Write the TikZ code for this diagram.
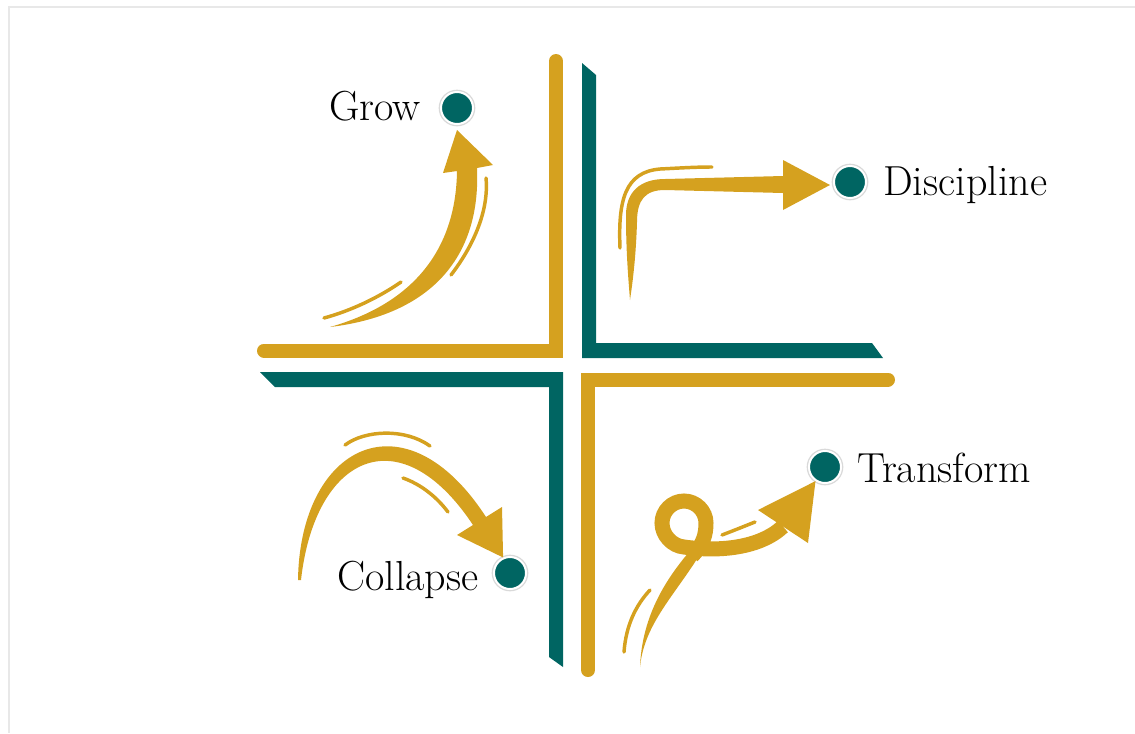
\documentclass[tikz,border=0pt]{standalone}
\usetikzlibrary{calc}
\definecolor{ochre}{RGB}{213,161,31}
\definecolor{deepteal}{RGB}{0,101,98}
\begin{document}
\begin{tikzpicture}[x=0.75pt,y=0.75pt,yscale=-1,xscale=1,
  goldbar/.style={draw=ochre, line width=10.5pt, line cap=round, line join=miter},
  tealbar/.style={fill=deepteal},
  arrowbody/.style={fill=ochre},
  swoosh/.style={draw=ochre, line width=2.6pt, line cap=round},
  dot/.style={circle, fill=deepteal, draw=white, line width=1.5pt, minimum size=24pt, inner sep=0pt, preaction={draw=black!15, line width=3.5pt}},
  lbl/.style={anchor=base west, inner sep=0pt, font=\fontsize{31.5}{36}\selectfont}]
\useasboundingbox (0,0) rectangle (1135,733);

%Frame
\draw [color=black!9, line width=2.2pt] (9,733) -- (9,7) -- (1135,7);

%Gold bar, top left
\draw [goldbar] (264,350.5) -- (556,350.5) -- (556,61);
%Gold bar, bottom right
\draw [goldbar] (888,379.5) -- (588,379.5) -- (588,670);
%Teal bar, top right
\fill [tealbar] (582,63) -- (596,75) -- (596,343) -- (872,343) -- (883,358) -- (582,358) -- cycle;
%Teal bar, bottom left
\fill [tealbar] (260,372) -- (563,372) -- (563,667) -- (549,657) -- (549,387) -- (275,387) -- cycle;

%Dots
\node [dot] (growdot) at (457,108) {};
\node [dot] (discdot) at (850,182) {};
\node [dot] (transdot) at (825,467) {};
\node [dot] (colldot) at (510,573) {};

%Grow arrow
\fill [arrowbody] (457,171) .. controls (456,245) and (418,302) .. (330,327) .. controls (430,315) and (481,258) .. (477,168) -- (493,165) -- ($(growdot.south)+(0,5)$) -- (443,173) -- cycle;
\draw [swoosh] (451,275) .. controls (474,245) and (489,210) .. (486,178);
\draw [swoosh] (324,318) .. controls (350,311) and (378,298) .. (401,282);

%Discipline arrow
\fill [arrowbody] (783,193) -- (665,190) .. controls (645,190) and (637,200) .. (637,222) .. controls (636,255) and (633,280) .. (630,300) .. controls (628,275) and (626,250) .. (626,215) .. controls (626,192) and (640,179) .. (665,179) -- (783,176) -- (783,160) -- ($(discdot.west)+(-3,3)$) -- (783,210) -- cycle;
\draw [swoosh] (620,248) .. controls (618,200) and (625,172) .. (660,169) .. controls (680,168) and (695,167) .. (712,167);

%Collapse arrow
\fill [arrowbody] (298,580) .. controls (300,445) and (405,392) .. (486,517) -- (502,507) -- (colldot.114) -- (457,535) -- (473,525) .. controls (400,415) and (315,455) .. (301,580) -- cycle;
\draw [swoosh] (345,445) .. controls (365,430) and (405,428) .. (430,446);
\draw [swoosh] (403,478) .. controls (420,484) and (436,496) .. (448,512);

%Transform arrow
\fill [arrowbody] (689,552) .. controls (668,577) and (642,614) .. (640,667) .. controls (644,626) and (672,598) .. (697,559) -- cycle;
\draw [draw=ochre, line width=11.25pt] (692,556) .. controls (703,545) and (706,535) .. (706,523) .. controls (706,511) and (696,501) .. (684,501) .. controls (672,501) and (662,511) .. (662,523) .. controls (662,535) and (672,546) .. (684,547) .. controls (720,552) and (760,548) .. (783,526.5);
\fill [arrowbody] (758,510) -- (transdot.236) -- (808,543) -- cycle;
\draw [swoosh] (722,535) .. controls (735,530) and (745,526) .. (755,522);
\draw [swoosh] (624,652) .. controls (626,625) and (636,605) .. (650,590);

% Text Node
\draw (329,120) node [lbl] (growtxt) {Grow};
% Text Node
\draw (883,195) node [lbl] (disctxt) {Discipline};
% Text Node
\draw (857,482) node [lbl] (transtxt) {Transform};
% Text Node
\draw (337,590) node [lbl] (colltxt) {Collapse};

\end{tikzpicture}
\end{document}
